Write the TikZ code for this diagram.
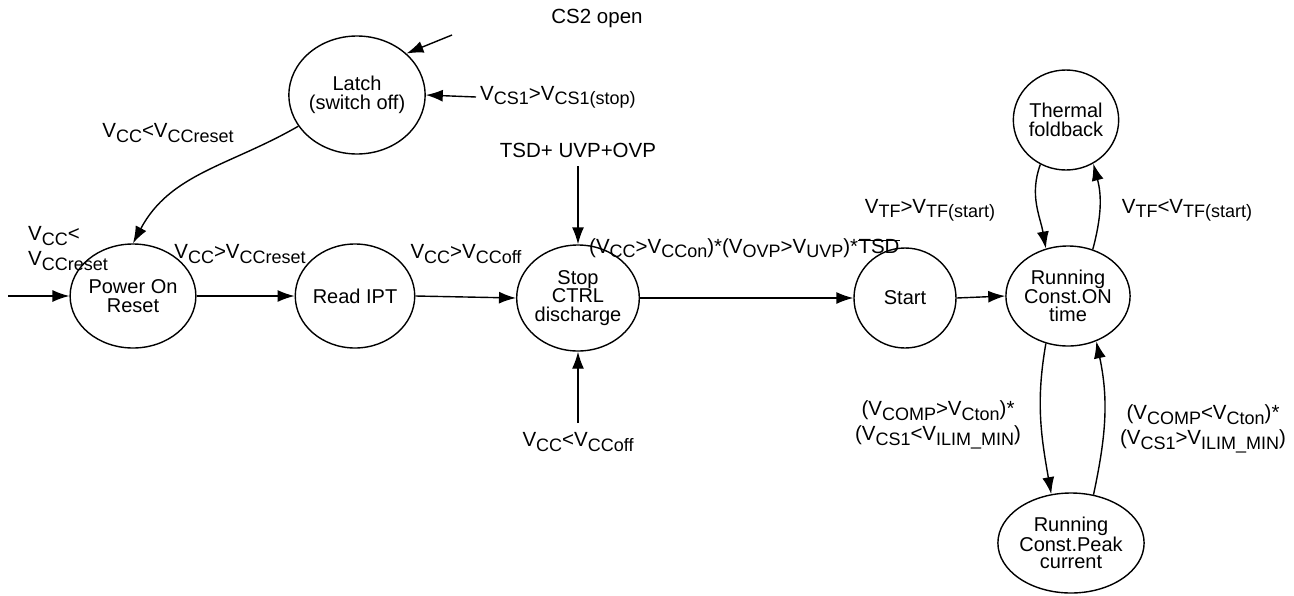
\documentclass[tikz,border=0pt]{standalone}
\usepackage{fontspec}
\setmainfont{Liberation Sans}
\usetikzlibrary{arrows.meta,shapes.geometric}
\newcommand{\lo}[1]{\raisebox{-0.4ex}{\fontsize{18}{18}\selectfont #1}}
\newcommand{\Vv}[1]{V\lo{#1}}
\begin{document}
\begin{tikzpicture}[x=1pt,y=-1pt,
  st/.style={ellipse, draw, line width=1.4pt, inner sep=0pt, align=center,
             font=\fontsize{20}{18.5}\selectfont},
  ar/.style={-{Latex[length=17pt,width=12pt]}, line width=1.4pt},
  lb/.style={font=\fontsize{20.5}{25}\selectfont, align=center, inner sep=0pt}]
\useasboundingbox (0,0) rectangle (1294,595);
% states
\node[st, minimum width=118, minimum height=118] (latch) at (357,95) {Latch\\(switch off)};
\node[st, minimum width=108, minimum height=104] (por) at (133,296) {Power On\\Reset};
\node[st, minimum width=104, minimum height=104] (ipt) at (355,296) {Read IPT};
\node[st, minimum width=102, minimum height=106] (stop) at (578,298) {Stop\\CTRL\\discharge};
\node[st, minimum width=102, minimum height=100] (start) at (905,298) {Start};
\node[st, minimum width=98, minimum height=100] (run) at (1068,296) {Running\\Const.ON\\time};
\node[st, minimum width=98, minimum height=100] (therm) at (1066,120) {Thermal\\foldback};
\node[st, minimum width=100, minimum height=100, font=\fontsize{20}{17.5}\selectfont] (peak) at (1071,543) {Running\\Const.Peak\\current};
% free ends
\coordinate (cs2) at (452,35);
\coordinate (cs1) at (476,97);
\coordinate (inp) at (8,296);
\coordinate (tsd) at (578,166);
\coordinate (vccb) at (578,423);
% labels
\node[lb] (lcs2) at (597,18) {CS2 open};
\node[lb, anchor=west] (lcs1) at (480,97) {\Vv{CS1}>\Vv{CS1(stop)}};
\node[lb] (lreset) at (168,133) {\Vv{CC}<\Vv{CCreset}};
\node[lb, anchor=west] (lin1) at (28,236) {\Vv{CC}<};
\node[lb, anchor=west] (lin2) at (28,261) {\Vv{CCreset}};
\node[lb] (lpi) at (240,254) {\Vv{CC}>\Vv{CCreset}};
\node[lb] (lis) at (466,254) {\Vv{CC}>\Vv{CCoff}};
\node[lb] (ltsd) at (578,150) {TSD+ UVP+OVP};
\node[lb] (lvb) at (578,442) {\Vv{CC}<\Vv{CCoff}};
\node[lb, anchor=west] (lss) at (589,248) {(\Vv{CC}>\Vv{CCon})*(\Vv{OVP}>\Vv{UVP})*};
\node[lb, anchor=base west] (ltsdbar) at (lss.base east) {TSD};
\draw[line width=1.2pt] ([yshift=-2pt]ltsdbar.north west) -- ([yshift=-2pt]ltsdbar.north east);
\node[lb] (ltf1) at (930,210) {\Vv{TF}>\Vv{TF(start)}};
\node[lb] (ltf2) at (1187,210) {\Vv{TF}<\Vv{TF(start)}};
\node[lb] (lcp1) at (938,425) {(\Vv{COMP}>\Vv{Cton})*\\(\Vv{CS1}<\Vv{ILIM\_MIN})};
\node[lb] (lcp2) at (1203,429) {(\Vv{COMP}<\Vv{Cton})*\\(\Vv{CS1}>\Vv{ILIM\_MIN})};
% connectors
\draw[ar] (cs2) -- (latch.40);
\draw[ar] (cs1) -- (latch.east);
\draw[ar] (latch.208) to[out=210,in=62] (por.north);
\draw[ar] (inp) -- (por.west);
\draw[ar] (por.east) -- (ipt.west);
\draw[ar] (ipt.east) -- (stop.west);
\draw[ar] (tsd) -- (stop.north);
\draw[ar] (vccb) -- (stop.south);
\draw[ar] (stop.east) -- (start.west);
\draw[ar] (start.east) -- (run.west);
\draw[ar] (therm.240) to[out=250,in=100] (run.115);
\draw[ar] (run.62) to[out=75,in=-75] (therm.-58);
\draw[ar] (run.245) to[out=260,in=100] (peak.112);
\draw[ar] (peak.65) to[out=78,in=-78] (run.-58);
\end{tikzpicture}
\end{document}
